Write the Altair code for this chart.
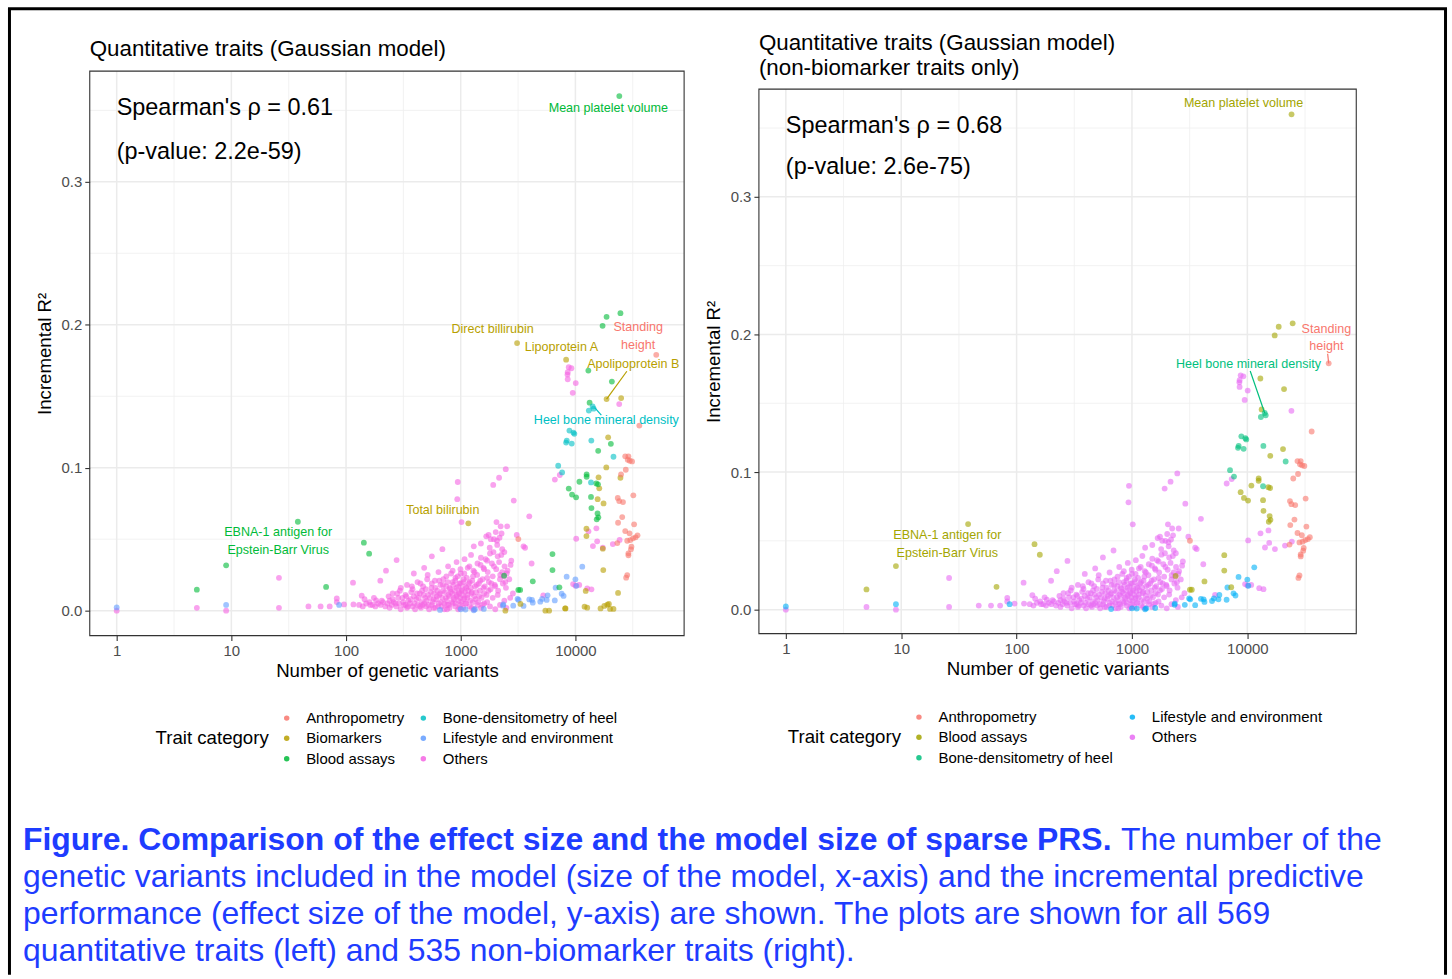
import altair as alt
import pandas as pd

FONT = "Liberation Sans"

# ---------------- data: (number of genetic variants, incremental R2) ----------------
anthropometry = [(50700, .179), (36100, .1295), (27200, .108), (29000, .108), (28600, .1056),
                 (29800, .1049), (31200, .1044), (27500, .0986), (25000, .0953), (32000, .0807),
                 (23400, .0789), (24100, .0767), (26000, .076), (25600, .0655), (23550, .0615),
                 (32500, .0604), (27200, .0557), (29650, .0541), (34800, .0527), (33500, .0513),
                 (31800, .0506), (30100, .0494), (28300, .0489), (23200, .0473), (30800, .0448),
                 (30500, .0429), (29000, .0401), (29000, .0387), (28300, .0249), (27700, .0231),
                 (3180, .0501)]

biomarkers = [(3100, .1872), (8300, .1756), (18700, .148), (25060, .1487), (19300, .1213),
              (18600, .1002), (24700, .093), (15920, .0933), (16150, .0856), (15630, .078),
              (17600, .075), (1165, .0611), (12480, .0573), (12480, .0522), (17340, .0434),
              (17500, .0284), (3320, .0047), (2450, .0), (5470, .0), (5900, .0), (8130, .0016),
              (8200, .0016), (12020, .0028), (12680, .0021), (16570, .0016), (17870, .0033),
              (19010, .0042), (19590, .0047), (20050, .0012), (21480, .0012), (23550, .0124),
              (12300, .0138)]

blood_assays = [(5, .0147), (9, .0317), (38, .0622), (67, .0166), (143, .0476), (159, .0399),
                (2390, .0245), (3180, .0145), (3300, .0145), (4250, .0205), (6310, .0396),
                (6310, .0284), (7250, .0163), (8750, .0854), (9350, .0812), (10140, .0793),
                (10840, .0902), (12530, .0953), (12530, .0937), (12970, .168), (13300, .1455),
                (13680, .0796), (13800, .0718), (15200, .089), (15350, .0639), (15600, .068),
                (15740, .0884), (15850, .0653), (15800, .1118), (17260, .1993), (18700, .2056),
                (20380, .1167), (20800, .1603), (24700, .2081), (24150, .360)]

bone_heel = [(14130, .1429), (14420, .1413), (13100, .140), (8870, .126), (9610, .1246),
             (9790, .1237), (8410, .119), (8300, .1176), (9290, .1169), (13770, .119),
             (21480, .1077), (7080, .1014), (7660, .0967), (13680, .0897)]

lifestyle = [(1, .0023), (9, .004), (87, .004), (660, .0005), (1000, .001), (1100, .0008),
             (1300, .0003), (1330, .001), (1590, .0012), (2340, .0035), (2350, .0044),
             (2870, .0035), (3130, .0082), (3200, .0075), (3530, .0033), (3960, .0079),
             (4180, .0075), (4250, .0056), (4940, .0063), (5130, .0082), (5720, .0107),
             (5620, .0075), (6610, .0072), (6720, .0161), (7590, .0119), (7890, .0103),
             (8390, .0238), (10000, .0219), (10200, .0174), (11480, .0308)]

others_low = [(1, .0), (5, .002), (9, .0), (26, .023), (26, .002), (47, .003), (60, .003),
              (72, .003), (83, .0086), (83, .006), (96, .0044), (115, .0196), (116, .0044),
              (137, .0105), (163, .004), (183, .0072), (199, .021), (223, .028), (276, .0354)]

others_row1 = [(130, .004), (140, .003), (150, .005), (160, .006), (170, .004), (180, .003),
               (190, .005), (200, .004), (210, .006), (220, .003), (230, .005), (240, .002),
               (250, .004), (260, .006), (275, .003), (290, .005), (300, .001), (320, .004),
               (340, .002), (360, .005), (380, .003), (400, .001), (420, .004), (450, .002),
               (480, .005), (500, .003), (530, .001), (560, .004), (600, .002), (640, .005),
               (680, .003), (720, .001), (760, .004), (800, .002), (850, .005), (900, .003),
               (950, .001), (1000, .004), (1050, .002), (1100, .005), (1200, .003), (1300, .001),
               (1400, .004), (1500, .002), (1600, .005), (1800, .003), (2000, .001), (2200, .004),
               (2500, .002)]

others_row2 = [(145, .008), (175, .009), (205, .007), (235, .010), (255, .008), (280, .012),
               (310, .009), (330, .011), (350, .007), (370, .013), (390, .010), (410, .008),
               (440, .012), (460, .014), (490, .009), (520, .011), (550, .013), (580, .008),
               (620, .010), (660, .012), (700, .014), (740, .009), (780, .011), (820, .013),
               (870, .008), (920, .010), (970, .012), (1020, .014), (1080, .009), (1150, .011),
               (1250, .013), (1350, .008), (1450, .010), (1600, .012), (1750, .014), (1900, .009),
               (2100, .011), (2400, .007), (2700, .009)]

others_row3 = [(300, .016), (340, .018), (380, .015), (420, .020), (470, .017), (510, .022),
               (560, .019), (600, .016), (650, .021), (700, .018), (750, .024), (800, .016),
               (850, .020), (900, .023), (950, .017), (1000, .019), (1060, .022), (1120, .016),
               (1200, .020), (1280, .024), (1380, .018), (1480, .021), (1580, .016), (1700, .023),
               (1850, .019), (2000, .017), (2200, .022), (2450, .020)]

others_core = [(240, .007), (255, .012), (270, .005), (285, .009), (295, .014), (315, .006),
               (335, .010), (345, .003), (365, .008), (375, .017), (395, .005), (415, .012),
               (430, .009), (445, .019), (455, .006), (465, .004), (475, .011), (495, .015),
               (505, .007), (515, .025), (525, .004), (540, .009), (555, .016), (570, .006),
               (585, .012), (595, .021), (610, .008), (625, .014), (635, .003), (650, .011),
               (665, .018), (675, .006), (690, .009), (705, .022), (715, .005), (730, .013),
               (745, .017), (755, .007), (770, .020), (785, .004), (795, .010), (810, .015),
               (825, .026), (835, .006), (845, .012), (860, .018), (875, .009), (885, .014),
               (895, .021), (905, .005), (915, .016), (930, .011), (940, .024), (955, .007),
               (965, .013), (975, .019), (985, .009), (995, .029), (1010, .006), (1025, .015),
               (1040, .011), (1055, .020), (1065, .008), (1075, .026), (1090, .013), (1105, .017),
               (1115, .005), (1130, .023), (1145, .009), (1160, .014), (1175, .019), (1190, .031),
               (1210, .007), (1225, .016), (1240, .012), (1260, .021), (1275, .006), (1290, .028),
               (1310, .010), (1330, .017), (1360, .013), (1390, .025), (1420, .006), (1440, .019),
               (1470, .014), (1490, .032), (1520, .009), (1550, .022), (1580, .030), (1620, .017),
               (1650, .036), (1680, .011), (1720, .027), (1760, .020), (1790, .044), (1820, .015),
               (1870, .033), (1900, .024), (1930, .041), (1980, .018), (2040, .029), (2080, .046),
               (2120, .014), (2160, .034), (2210, .025), (2260, .039), (2330, .019), (2410, .031),
               (2480, .016), (2560, .028), (2650, .022), (2760, .035), (2850, .012), (1700, .006),
               (1550, .004), (1250, .002), (980, .002), (760, .001), (580, .002), (440, .003),
               (330, .004)]

others_upper = [(390, .026), (480, .030), (560, .038), (640, .027), (692, .043), (776, .031),
                (850, .028), (920, .034), (1000, .026), (1080, .036), (1150, .030), (1230, .039),
                (1320, .027), (1400, .033), (1500, .037), (1600, .029), (1700, .035), (1800, .040),
                (1950, .031), (2100, .038), (2300, .027), (2520, .026), (2370, .024), (2720, .032),
                (4150, .033), (1670, .052), (1750, .053), (1830, .050), (1950, .050), (2020, .055),
                (2050, .062), (2070, .049), (2180, .051), (2230, .059), (2270, .054), (2540, .059),
                (3080, .053), (3530, .045), (3640, .044), (1300, .045), (1500, .047), (2300, .043),
                (2400, .041), (1016, .062), (3960, .066), (933, .078), (942, .090), (1920, .088),
                (2160, .093), (2470, .099), (2900, .077)]

others_high = [(6620, .0917), (7310, .0949), (8750, .1703), (9230, .1696), (8570, .1668),
               (8530, .1652), (8570, .1619), (10070, .1592), (9480, .1524), (24100, .1445),
               (15240, .0576), (13000, .0555), (10160, .0503), (15480, .0485), (14220, .0452),
               (17340, .044), (21200, .0466), (24300, .0495), (9550, .0186), (10000, .0175),
               (12680, .0156), (13800, .0149), (10800, .018), (5250, .0107)]

others = others_low + others_row1 + others_row2 + others_row3 + others_core + others_upper + others_high

rows = []
for cat, pts in [("Others", others), ("Lifestyle and environment", lifestyle),
                 ("Biomarkers", biomarkers), ("Blood assays", blood_assays),
                 ("Bone-densitometry of heel", bone_heel), ("Anthropometry", anthropometry)]:
    for n, r in pts:
        rows.append({"n": n, "r2": r, "cat": cat})
df_all = pd.DataFrame(rows)
df_nonbio = df_all[df_all["cat"] != "Biomarkers"].reset_index(drop=True)

left_domain = ["Anthropometry", "Biomarkers", "Blood assays",
               "Bone-densitometry of heel", "Lifestyle and environment", "Others"]
left_range = ["#F8766D", "#B79F00", "#00BA38", "#00BFC4", "#619CFF", "#F564E3"]
right_domain = ["Anthropometry", "Blood assays", "Bone-densitometry of heel",
                "Lifestyle and environment", "Others"]
right_range = ["#F8766D", "#A3A500", "#00BF7D", "#00B0F6", "#E76BF3"]

x_major = [1, 10, 100, 1000, 10000]
x_minor = [3.1623, 31.623, 316.23, 3162.3, 31623]
y_major = [0.0, 0.1, 0.2, 0.3]
y_minor = [0.05, 0.15, 0.25, 0.35]

# annotation labels (text, n, r2, colour) in data coordinates
left_labels = [("Mean platelet volume", 19360, .3517, "#00BA38"),
               ("Direct billirubin", 1897, .1968, "#B79F00"),
               ("Lipoprotein A", 7550, .1842, "#B79F00"),
               ("Standing", 35300, .1982, "#F8766D"),
               ("height", 35300, .1856, "#F8766D"),
               ("Apolipoprotein B", 31950, .1724, "#B79F00"),
               ("Heel bone mineral density", 18620, .1333, "#00BFC4"),
               ("Total bilirubin", 697, .0705, "#B79F00"),
               ("EBNA-1 antigen for", 25.6, .0551, "#00BA38"),
               ("Epstein-Barr Virus", 25.6, .0426, "#00BA38")]
left_segments = [(18700, .148, 28100, .1675, "#B79F00"),
                 (14720, .1421, 16830, .1368, "#00BFC4")]
right_labels = [("Mean platelet volume", 9270, .368, "#A3A500"),
                ("Standing", 48400, .2043, "#F8766D"),
                ("height", 48400, .1913, "#F8766D"),
                ("Heel bone mineral density", 10230, .1783, "#00BF7D"),
                ("EBNA-1 antigen for", 25.1, .0543, "#A3A500"),
                ("Epstein-Barr Virus", 25.1, .0413, "#A3A500")]
right_segments = [(50700, .179, 49660, .186, "#F8766D"),
                  (14130, .1429, 10590, .1734, "#00BF7D")]

CAPTION_BLUE = "#1E3CFF"
CAP = 32


def ptext(text, x, y, size, color="black", weight="normal", align="left", baseline="middle"):
    return alt.Chart(pd.DataFrame({"t": [text]})).mark_text(
        align=align, baseline=baseline, font=FONT, fontSize=size, color=color,
        fontWeight=weight).encode(x=alt.value(x), y=alt.value(y), text="t:N")


def prule(x, y, x2=None, y2=None, color="black", width=3):
    enc = dict(x=alt.value(x), y=alt.value(y))
    if x2 is not None:
        enc["x2"] = alt.value(x2)
    if y2 is not None:
        enc["y2"] = alt.value(y2)
    return alt.Chart(pd.DataFrame({"a": [0]})).mark_rule(color=color, strokeWidth=width).encode(**enc)


def panel(data, W, H, top, xdom, ydom, cdom, crange, lx, ly, labels, segments,
          rho, pval, rho_y, p_y, title_lines, extra):
    xs = alt.Scale(type="log", domain=xdom, nice=False)
    ys = alt.Scale(domain=ydom, nice=False, zero=False, range=[H, top])
    xe = alt.X("n:Q", scale=xs, axis=alt.Axis(
        values=x_major, format="d", title="Number of genetic variants", grid=False,
        domain=False, tickColor="#333333", tickSize=5, tickWidth=1.1,
        labelColor="#4D4D4D", labelFont=FONT, labelFontSize=15, labelPadding=3,
        titleFont=FONT, titleFontSize=18.7, titleFontWeight="normal", titleColor="black",
        titlePadding=3))
    ye = alt.Y("r2:Q", scale=ys, axis=alt.Axis(
        values=y_major, format=".1f", title="Incremental R²", grid=False,
        domain=False, tickColor="#333333", tickSize=5, tickWidth=1.1,
        labelColor="#4D4D4D", labelFont=FONT, labelFontSize=15, labelPadding=3,
        titleFont=FONT, titleFontSize=18.7, titleFontWeight="normal", titleColor="black",
        titlePadding=7))

    layers = []
    layers.append(alt.Chart(pd.DataFrame({"n": x_minor})).mark_rule(
        color="#EFEFEF", strokeWidth=0.8).encode(x=xe, y=alt.value(top), y2=alt.value(H)))
    layers.append(alt.Chart(pd.DataFrame({"r2": y_minor})).mark_rule(
        color="#EFEFEF", strokeWidth=0.8).encode(y=ye, x=alt.value(0), x2=alt.value(W)))
    layers.append(alt.Chart(pd.DataFrame({"n": x_major})).mark_rule(
        color="#EBEBEB", strokeWidth=1.5).encode(x=xe, y=alt.value(top), y2=alt.value(H)))
    layers.append(alt.Chart(pd.DataFrame({"r2": y_major})).mark_rule(
        color="#EBEBEB", strokeWidth=1.5).encode(y=ye, x=alt.value(0), x2=alt.value(W)))
    layers.append(alt.Chart(pd.DataFrame({"a": [0]})).mark_rect(
        fillOpacity=0, stroke="#333333", strokeWidth=1.1).encode(
        x=alt.value(0), x2=alt.value(W), y=alt.value(top), y2=alt.value(H)))

    legend = alt.Legend(
        title="Trait category", orient="none", legendX=lx, legendY=ly, columns=2,
        titleOrient="left", titleAnchor="middle", titleBaseline="middle",
        titleFont=FONT, titleFontSize=18.7, titleFontWeight="normal", titleColor="black",
        titlePadding=10, labelFont=FONT, labelFontSize=15, labelColor="black",
        labelLimit=0, labelOffset=12, symbolType="circle", symbolSize=30,
        symbolStrokeWidth=0, symbolOpacity=0.85, rowPadding=4.5, columnPadding=11, padding=0)
    layers.append(alt.Chart(data).mark_circle(size=34, opacity=0.6).encode(
        x=xe, y=ye,
        color=alt.Color("cat:N", scale=alt.Scale(domain=cdom, range=crange), legend=legend)))

    for (n1, r1, n2, r2_, col) in segments:
        seg = pd.DataFrame({"n": [n1], "r2": [r1], "n_end": [n2], "r2_end": [r2_]})
        layers.append(alt.Chart(seg).mark_rule(color=col, strokeWidth=1.2).encode(
            x=xe, y=ye, x2="n_end:Q", y2="r2_end:Q"))
    for (txt, n, r, col) in labels:
        lab = pd.DataFrame({"n": [n], "r2": [r], "label": [txt]})
        layers.append(alt.Chart(lab).mark_text(
            font=FONT, fontSize=12.6, color=col, align="center", baseline="middle").encode(
            x=xe, y=ye, text="label:N"))

    layers.append(ptext(rho, 27, rho_y, 23.5))
    layers.append(ptext(pval, 27, p_y, 23.5))
    for (txt, ty) in title_lines:
        layers.append(ptext(txt, 0, ty, 22.4))
    layers.extend(extra)
    return alt.layer(*layers).properties(width=W, height=H)


# frame and caption drawn relative to the left panel's plot origin
caption = [
    ptext("Figure. Comparison of the effect size and the model size of sparse PRS.",
          -67, 781, CAP, color=CAPTION_BLUE, weight="bold", baseline="alphabetic"),
    ptext("The number of the", 1034, 781, CAP, color=CAPTION_BLUE, baseline="alphabetic"),
    ptext("genetic variants included in the model (size of the model, x-axis) and the incremental predictive",
          -67, 818, CAP, color=CAPTION_BLUE, baseline="alphabetic"),
    ptext("performance (effect size of the model, y-axis) are shown. The plots are shown for all 569",
          -67, 855, CAP, color=CAPTION_BLUE, baseline="alphabetic"),
    ptext("quantitative traits (left) and 535 non-biomarker traits (right).",
          -67, 892, CAP, color=CAPTION_BLUE, baseline="alphabetic"),
]
frame = [
    prule(-80.5, -62.5, y2=906),
    prule(-82, -62.5, x2=1361),
    prule(1359.5, -62.5, y2=906),
]

left = panel(df_all, 596, 566, 0, [0.5822, 88716], [-0.01744, 0.37745],
             left_domain, left_range, 66, 641, left_labels, left_segments,
             "Spearman's ρ = 0.61", "(p-value: 2.2e-59)", 37, 81,
             [("Quantitative traits (Gaussian model)", -22)], caption + frame)

right = panel(df_nonbio, 599, 564, 18, [0.5844, 87900], [-0.01739, 0.3783],
              right_domain, right_range, 29, 640, right_labels, right_segments,
              "Spearman's ρ = 0.68", "(p-value: 2.6e-75)", 55, 96,
              [("Quantitative traits (Gaussian model)", -28),
               ("(non-biomarker traits only)", -3)], [])

chart = alt.hconcat(left, right, spacing=75, bounds="flush").resolve_scale(
    x="independent", y="independent", color="independent"
).resolve_legend(color="independent").properties(
    padding={"left": 6, "top": 6, "right": 3, "bottom": 0},
    background="white",
).configure_view(stroke=None)

chart.save("out.html", embed_options={"renderer": "svg", "actions": False})
